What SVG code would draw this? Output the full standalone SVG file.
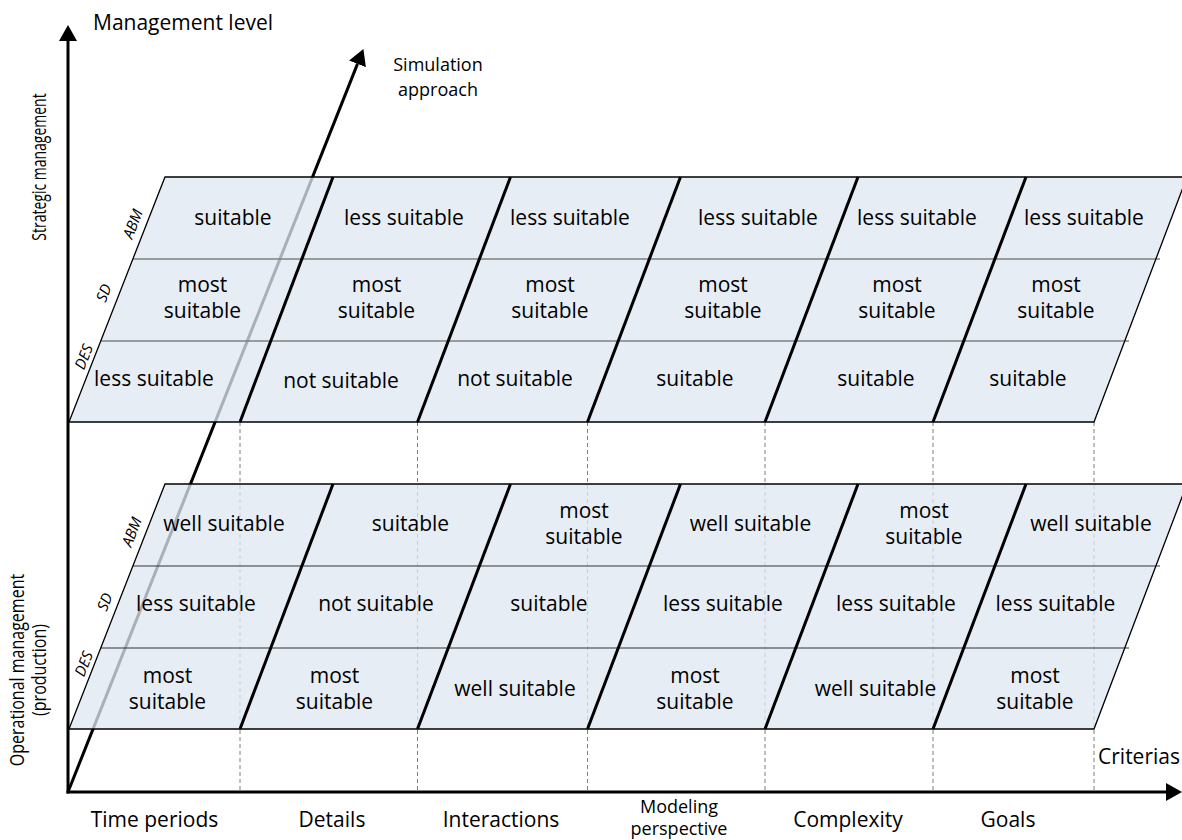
<svg xmlns="http://www.w3.org/2000/svg" width="1182" height="840" viewBox="0 0 1182 840">
  <defs>
    <marker id="arrow" markerUnits="userSpaceOnUse" markerWidth="18" markerHeight="20" viewBox="0 -10 18 20" refX="0" refY="0" orient="auto">
      <path d="M0,-9 L16,0 L0,9 z" fill="#000"/>
    </marker>
    <style>
      text { font-family: "Open Sans", "Liberation Sans", sans-serif; fill: #000; }
      .cell { font-size: 21px; text-anchor: middle; }
      .lbl { font-size: 21px; }
      .mid { text-anchor: middle; }
      .small { font-size: 18px; text-anchor: middle; }
      .tech { font-size: 15px; font-style: italic; text-anchor: middle; }
      .side { font-size: 20px; text-anchor: middle; }
      .panel { fill: #dfe7f0; fill-opacity: 0.76; stroke: none; }
      .edge { fill: none; stroke: #000; stroke-width: 1.3; }
      .row-top { stroke: #7f7f7f; stroke-width: 1.5; }
      .row-bot { stroke: #333; stroke-width: 1; }
      .col { stroke: #000; stroke-width: 3; stroke-linecap: butt; }
      .guide { stroke: #7f7f7f; stroke-width: 1; stroke-dasharray: 4 3; }
      .axis { stroke: #000; stroke-width: 3; fill: none; }
    </style>
  </defs>

  <!-- column guides down to the criteria axis -->
  <g id="guides">
    <line class="guide" x1="240" y1="422" x2="240" y2="792"/>
    <line class="guide" x1="417.5" y1="422" x2="417.5" y2="792"/>
    <line class="guide" x1="587.5" y1="422" x2="587.5" y2="792"/>
    <line class="guide" x1="765" y1="422" x2="765" y2="792"/>
    <line class="guide" x1="933" y1="422" x2="933" y2="792"/>
    <line class="guide" x1="1094" y1="422" x2="1094" y2="792"/>
  </g>

  <!-- simulation approach axis, seen through the translucent planes -->
  <g id="connectors">
    <line class="axis" x1="68" y1="792" x2="357.5" y2="63.9" marker-end="url(#arrow)"/>
  </g>

  <!-- strategic management plane -->
  <g id="plane-strategic">
    <polygon class="panel" points="69,422 165,177 1187,177 1094,422"/>
    <line class="row-top" x1="133" y1="259" x2="1160" y2="259"/>
    <line class="row-top" x1="100.7" y1="341" x2="1129" y2="341"/>
    <line class="col" x1="240" y1="422" x2="333" y2="177"/>
    <line class="col" x1="417.5" y1="422" x2="510.5" y2="177"/>
    <line class="col" x1="587.5" y1="422" x2="680.5" y2="177"/>
    <line class="col" x1="765" y1="422" x2="858" y2="177"/>
    <line class="col" x1="933" y1="422" x2="1026" y2="177"/>
    <polygon class="edge" points="69,422 165,177 1187,177 1094,422"/>
    <text class="tech" transform="translate(133,224) rotate(-68.6)" y="5">ABM</text>
    <text class="tech" transform="translate(104,293) rotate(-68.6)" y="5">SD</text>
    <text class="tech" transform="translate(84,357) rotate(-68.6)" y="5">DES</text>

    <text class="cell" x="233" y="225">suitable</text>
    <text class="cell" x="404" y="225">less suitable</text>
    <text class="cell" x="570" y="225">less suitable</text>
    <text class="cell" x="758" y="225">less suitable</text>
    <text class="cell" x="917" y="225">less suitable</text>
    <text class="cell" x="1084" y="225">less suitable</text>

    <text class="cell" y="292"><tspan x="202.5">most</tspan><tspan x="202.5" dy="26">suitable</tspan></text>
    <text class="cell" y="292"><tspan x="376.5">most</tspan><tspan x="376.5" dy="26">suitable</tspan></text>
    <text class="cell" y="292"><tspan x="550">most</tspan><tspan x="550" dy="26">suitable</tspan></text>
    <text class="cell" y="292"><tspan x="723">most</tspan><tspan x="723" dy="26">suitable</tspan></text>
    <text class="cell" y="292"><tspan x="897">most</tspan><tspan x="897" dy="26">suitable</tspan></text>
    <text class="cell" y="292"><tspan x="1056">most</tspan><tspan x="1056" dy="26">suitable</tspan></text>

    <text class="cell" x="154" y="386">less suitable</text>
    <text class="cell" x="341" y="388">not suitable</text>
    <text class="cell" x="515" y="386">not suitable</text>
    <text class="cell" x="695" y="386">suitable</text>
    <text class="cell" x="876" y="386">suitable</text>
    <text class="cell" x="1028" y="386">suitable</text>
  </g>

  <!-- operational management plane -->
  <g id="plane-operational">
    <polygon class="panel" points="69,729 165,484 1187,484 1094,729"/>
    <line class="row-bot" x1="133" y1="566" x2="1160" y2="566"/>
    <line class="row-bot" x1="100.7" y1="648" x2="1129" y2="648"/>
    <line class="col" x1="240" y1="729" x2="333" y2="484"/>
    <line class="col" x1="417.5" y1="729" x2="510.5" y2="484"/>
    <line class="col" x1="587.5" y1="729" x2="680.5" y2="484"/>
    <line class="col" x1="765" y1="729" x2="858" y2="484"/>
    <line class="col" x1="933" y1="729" x2="1026" y2="484"/>
    <polygon class="edge" points="69,729 165,484 1187,484 1094,729"/>
    <text class="tech" transform="translate(132,532) rotate(-68.6)" y="5">ABM</text>
    <text class="tech" transform="translate(105,602) rotate(-68.6)" y="5">SD</text>
    <text class="tech" transform="translate(84,664) rotate(-68.6)" y="5">DES</text>

    <text class="cell" x="224" y="531">well suitable</text>
    <text class="cell" x="410.5" y="531">suitable</text>
    <text class="cell" y="518"><tspan x="584">most</tspan><tspan x="584" dy="26">suitable</tspan></text>
    <text class="cell" x="750.5" y="531">well suitable</text>
    <text class="cell" y="518"><tspan x="924">most</tspan><tspan x="924" dy="26">suitable</tspan></text>
    <text class="cell" x="1091" y="531">well suitable</text>

    <text class="cell" x="196" y="611">less suitable</text>
    <text class="cell" x="376" y="611">not suitable</text>
    <text class="cell" x="549" y="611">suitable</text>
    <text class="cell" x="723" y="611">less suitable</text>
    <text class="cell" x="896" y="611">less suitable</text>
    <text class="cell" x="1055.5" y="611">less suitable</text>

    <text class="cell" y="683"><tspan x="167.5">most</tspan><tspan x="167.5" dy="26">suitable</tspan></text>
    <text class="cell" y="683"><tspan x="334.5">most</tspan><tspan x="334.5" dy="26">suitable</tspan></text>
    <text class="cell" x="515" y="696">well suitable</text>
    <text class="cell" y="683"><tspan x="695">most</tspan><tspan x="695" dy="26">suitable</tspan></text>
    <text class="cell" x="875.5" y="696">well suitable</text>
    <text class="cell" y="683"><tspan x="1035">most</tspan><tspan x="1035" dy="26">suitable</tspan></text>
  </g>

  <!-- management level and criteria axes -->
  <g id="axes">
    <line class="axis" x1="68" y1="793.5" x2="68" y2="41" marker-end="url(#arrow)"/>
    <line class="axis" x1="66.5" y1="792" x2="1166" y2="792" marker-end="url(#arrow)"/>
  </g>

  <g id="axis-labels">
    <text class="lbl" x="93" y="30">Management level</text>
    <text class="small" y="71"><tspan x="438">Simulation</tspan><tspan x="438" dy="25">approach</tspan></text>
    <text class="lbl mid" x="1139" y="764">Criterias</text>
    <text class="side" transform="translate(46,167) rotate(-90) scale(0.7,1)">Strategic management</text>
    <text class="side" transform="translate(24,670) rotate(-90) scale(0.8,1)"><tspan x="0">Operational management</tspan><tspan x="0" dy="22">(production)</tspan></text>
  </g>

  <g id="criteria">
    <text class="lbl mid" x="154.5" y="827">Time periods</text>
    <text class="lbl mid" x="332" y="827">Details</text>
    <text class="lbl mid" x="501" y="827">Interactions</text>
    <text class="small" y="813"><tspan x="679">Modeling</tspan><tspan x="679" dy="22">perspective</tspan></text>
    <text class="lbl mid" x="848" y="827">Complexity</text>
    <text class="lbl mid" x="1008" y="827">Goals</text>
  </g>
</svg>
